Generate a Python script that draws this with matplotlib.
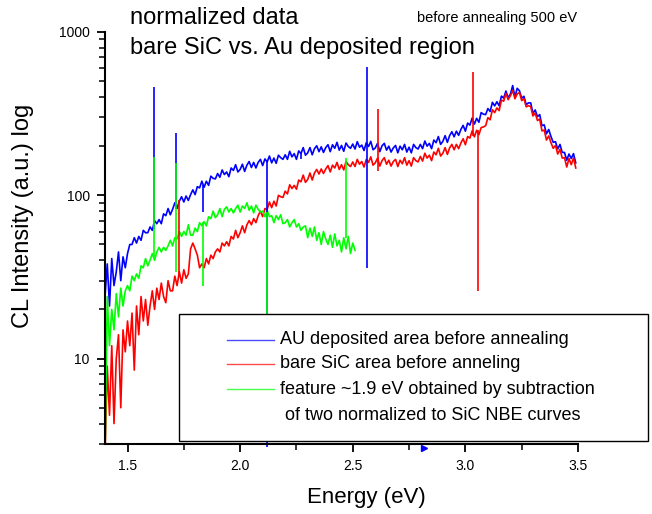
import matplotlib
matplotlib.use("Agg")
import matplotlib.pyplot as plt
import numpy as np
from matplotlib.patches import Rectangle
from matplotlib.lines import Line2D
from matplotlib.ticker import LogLocator, FixedLocator, NullFormatter, MultipleLocator

plt.rcParams['font.family'] = ['Liberation Sans', 'DejaVu Sans']

# energy grid of the two full spectra and of the subtracted feature (eV)
energy = np.round(np.arange(1.40, 3.495, 0.01), 2)
energy_feature = np.round(np.arange(1.40, 2.515, 0.01), 2)

au_area = [
    24, 38, 21, 41, 28, 34, 45, 30, 42, 36,
    44, 50, 50, 55, 51, 56, 53, 61, 59, 59,
    64, 61, 70, 67, 71, 67, 77, 75, 83, 76,
    82, 90, 83, 92, 98, 91, 99, 93, 101, 108,
    101, 113, 111, 122, 112, 122, 115, 131, 127, 126,
    136, 129, 143, 134, 139, 130, 147, 142, 154, 139,
    144, 155, 140, 153, 161, 148, 159, 147, 159, 166,
    152, 167, 160, 174, 158, 169, 157, 176, 170, 166,
    177, 166, 186, 172, 180, 166, 187, 180, 196, 176,
    182, 196, 177, 193, 201, 185, 198, 183, 196, 204,
    185, 204, 194, 211, 189, 202, 186, 209, 199, 194,
    206, 192, 213, 197, 203, 188, 210, 199, 214, 190,
    195, 208, 185, 201, 208, 189, 200, 184, 195, 202,
    182, 200, 190, 205, 184, 197, 182, 205, 196, 192,
    205, 193, 215, 200, 208, 193, 218, 210, 229, 205,
    214, 232, 211, 232, 245, 228, 247, 233, 253, 268,
    247, 277, 269, 297, 273, 296, 280, 321, 314, 312,
    340, 326, 371, 353, 374, 353, 405, 394, 435, 395,
    417, 470, 400, 452, 437, 393, 404, 359, 368, 368,
    318, 333, 303, 312, 267, 270, 238, 253, 229, 211,
    213, 192, 205, 183, 183, 164, 179, 168, 180, 158,
]

bare_sic = [
    2.5, 9, 4.5, 12, 4, 10, 14, 5, 15, 11,
    17, 12, 19, 8.5, 21, 14, 24, 17, 23, 16,
    21, 26, 20, 27, 23, 29, 24, 22, 30, 26,
    26, 32, 28, 34, 29, 35, 31, 33, 47, 51,
    47, 43, 36, 38, 36, 41, 38, 43, 41, 45,
    47, 45, 51, 49, 52, 49, 56, 54, 61, 55,
    59, 65, 59, 66, 70, 66, 72, 68, 75, 80,
    74, 83, 82, 91, 84, 92, 86, 100, 98, 97,
    106, 102, 116, 110, 115, 109, 124, 121, 133, 120,
    125, 137, 124, 137, 144, 135, 145, 136, 145, 152,
    139, 153, 147, 159, 144, 154, 143, 161, 154, 150,
    160, 150, 166, 155, 161, 149, 166, 159, 172, 153,
    158, 169, 151, 163, 170, 155, 164, 151, 161, 166,
    150, 164, 156, 170, 153, 163, 151, 170, 163, 160,
    173, 162, 181, 169, 176, 163, 184, 177, 194, 174,
    181, 196, 178, 195, 205, 190, 205, 193, 209, 222,
    204, 229, 224, 248, 228, 250, 235, 260, 262, 267,
    299, 290, 334, 321, 343, 330, 383, 377, 421, 385,
    407, 439, 390, 418, 426, 380, 391, 348, 354, 349,
    306, 318, 287, 293, 248, 251, 218, 231, 210, 194,
    202, 179, 191, 169, 170, 149, 168, 154, 169, 147,
]

feature = [
    2.5, 24, 12, 20, 15, 25, 18, 27, 21, 26,
    28, 26, 32, 30, 33, 31, 37, 36, 41, 37,
    40, 44, 40, 45, 48, 45, 48, 46, 49, 53,
    49, 55, 54, 60, 56, 60, 57, 66, 57, 57,
    63, 60, 68, 65, 69, 65, 74, 72, 80, 73,
    76, 83, 74, 82, 85, 79, 83, 78, 83, 87,
    79, 86, 83, 90, 81, 86, 78, 87, 82, 79,
    80, 74, 81, 74, 75, 68, 75, 71, 76, 67,
    68, 71, 64, 68, 71, 64, 67, 61, 64, 65,
    55, 63, 56, 64, 53, 59, 50, 60, 54, 50,
    57, 48, 58, 49, 53, 45, 55, 47, 56, 44,
    51, 46,
]

# narrow spikes (energy, low end, high end)
au_spike_e = [1.618, 1.715, 1.837, 2.118, 2.270, 2.565]
au_spike_lo = [62, 82, 79, 2.88, 166, 36]
au_spike_hi = [462, 242, 115, 162, 182, 612]

sic_spike_e = [1.730, 2.610, 3.035, 3.058]
sic_spike_lo = [33, 140, 230, 26]
sic_spike_hi = [93, 336, 571, 250]

feat_spike_e = [1.618, 1.715, 1.837, 2.118, 2.470]
feat_spike_lo = [42, 34, 28, 5, 55]
feat_spike_hi = [172, 158, 69, 79, 169]

marker_e = [2.815]
marker_v = [2.85]

legend_labels = [
    "AU deposited area before annealing",
    "bare SiC area before anneling",
    "feature ~1.9 eV obtained by subtraction",
    " of two normalized to SiC NBE curves",
]

W, H = 652, 514
fig = plt.figure(figsize=(W / 100, H / 100), dpi=100)
ax = fig.add_axes([105 / W, 1 - 444 / H, 473 / W, 412 / H])

ax.plot(energy, au_area, color='#0000ff', lw=1.2)
ax.plot(energy, bare_sic, color='#ff0000', lw=1.2)
ax.plot(energy_feature, feature, color='#00ff00', lw=1.2)

ax.vlines(au_spike_e, au_spike_lo, au_spike_hi, colors='#0000ff', lw=1.2, clip_on=False)
ax.vlines(sic_spike_e, sic_spike_lo, sic_spike_hi, colors='#ff0000', lw=1.2)
ax.vlines(feat_spike_e, feat_spike_lo, feat_spike_hi, colors='#00ff00', lw=1.2)
ax.plot(marker_e, marker_v, '>', color='#0000ff', ms=5, clip_on=False)

ax.set_yscale('log')
ax.set_xlim(1.40, 3.50)
ax.set_ylim(3, 1000)

ax.xaxis.set_major_locator(MultipleLocator(0.5))
ax.xaxis.set_minor_locator(MultipleLocator(0.25))
ax.xaxis.set_major_formatter(plt.FormatStrFormatter('%.1f'))
ax.yaxis.set_major_locator(FixedLocator([10, 100, 1000]))
ax.yaxis.set_major_formatter(plt.FuncFormatter(lambda v, p: '%d' % v))
ax.yaxis.set_minor_locator(LogLocator(base=10, subs=np.arange(2, 10)))
ax.yaxis.set_minor_formatter(NullFormatter())

for s in ['top', 'right']:
    ax.spines[s].set_visible(False)
for s in ['left', 'bottom']:
    ax.spines[s].set_linewidth(1.5)
ax.tick_params(which='major', direction='out', length=6, width=1.3, labelsize=10, pad=5)
ax.tick_params(which='minor', direction='out', length=4, width=1.1)

fig.text(23 / W, 1 - 216 / H, 'CL Intensity (a.u.) log', rotation=90,
         ha='center', va='center', fontsize=17)
fig.text(366 / W, 1 - 497 / H, 'Energy (eV)', ha='center', va='center', fontsize=16)

fig.text(130 / W, 1 - 18 / H, 'normalized data', ha='left', va='center', fontsize=17)
fig.text(130 / W, 1 - 48 / H, 'bare SiC vs. Au deposited region', ha='left', va='center', fontsize=17)
fig.text(417 / W, 1 - 18 / H, 'before annealing 500 eV', ha='left', va='center', fontsize=10.5)

# legend box drawn by hand, it sticks out past the axes
fig.add_artist(Rectangle((179 / W, 1 - 441 / H), 469 / W, 127 / H, transform=fig.transFigure,
                         facecolor='white', edgecolor='black', lw=1, zorder=5))
colors = ['#0000ff', '#ff0000', '#00ff00', None]
rows = [340, 364, 389, 415]
for lab, c, yy in zip(legend_labels, colors, rows):
    if c is not None:
        fig.add_artist(Line2D([227 / W, 274 / W], [1 - yy / H, 1 - yy / H], color=c,
                              lw=1, alpha=0.7, transform=fig.transFigure, zorder=6))
    fig.text(280 / W, 1 - yy / H, lab, ha='left', va='center', fontsize=13, zorder=6)

fig.savefig('out.png', dpi=100)
